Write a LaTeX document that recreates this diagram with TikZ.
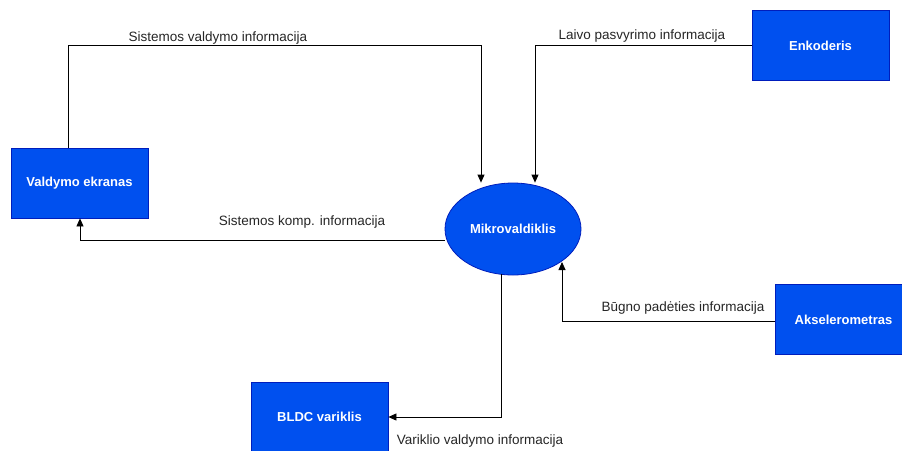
\documentclass[tikz,border=0pt]{standalone}
\usepackage{fontspec}
\setmainfont{Liberation Sans}
\usetikzlibrary{arrows.meta,shapes.geometric}
\definecolor{blockfill}{HTML}{0050EF}
\definecolor{blockline}{HTML}{001DBC}
\definecolor{labeltext}{HTML}{262626}
\tikzset{
  block/.style={rectangle, draw=blockline, fill=blockfill, line width=0.8pt,
    minimum width=137pt, minimum height=70pt, inner sep=0pt,
    text=white, font=\fontsize{13}{15}\selectfont\bfseries},
  hub/.style={ellipse, draw=blockline, fill=blockfill, line width=0.8pt,
    minimum width=136pt, minimum height=92pt, inner sep=0pt,
    text=white, font=\fontsize{13}{15}\selectfont\bfseries},
  flow/.style={draw=black, line width=0.8pt, -{Triangle[length=8pt,width=7pt]}},
  flowlabel/.style={text=labeltext, font=\fontsize{13.5}{15}\selectfont, inner sep=1pt}
}
\begin{document}
\begin{tikzpicture}[x=1pt,y=-1pt]
  \useasboundingbox (0,0) rectangle (902,450);
  \fill[white] (0,0) rectangle (902,450);
  \clip (0,0) rectangle (902,450);

  % blocks
  \node[block] (ekranas) at (79.5,183) {Valdymo ekranas};
  \node[hub] (mcu) at (513,229) {Mikrovaldiklis};
  \node[block] (enk) at (820.5,45.5) {Enkoderis};
  \node[block] (aksel) at (843.5,319.5) {Akselerometras};
  \node[block] (bldc) at (319.5,417) {BLDC variklis};

  % bend points
  \coordinate (c1) at (68,45);
  \coordinate (c2) at (481,45);
  \coordinate (c3) at (535,45);
  \coordinate (c4) at (80,240);
  \coordinate (c5) at (562,321);
  \coordinate (c6) at (501,417);

  % connectors
  \draw[flow] (ekranas.north -| c1) -- (c1) -- (c2) -- (mcu.north -| c2);
  \draw[flow] (enk.west |- c3) -- (c3) -- (c3 |- mcu.north);
  \draw[flow] (mcu.west |- c4) -- (c4) -- (c4 |- ekranas.south);
  \draw[flow] (aksel.west |- c5) -- (c5) -- (562,262);
  \draw[flow] (501,274) -- (c6) -- (bldc.east |- c6);

  % connector labels
  \node[flowlabel] (l1) at (218,38) {Sistemos valdymo informacija};
  \node[flowlabel] (l2) at (642,36) {Laivo pasvyrimo informacija};
  \node[flowlabel] (l3) at (302,222) {Sistemos komp. informacija};
  \node[flowlabel] (l4) at (683,308) {Būgno padėties informacija};
  \node[flowlabel] (l5) at (480,441) {Variklio valdymo informacija};
\end{tikzpicture}
\end{document}
